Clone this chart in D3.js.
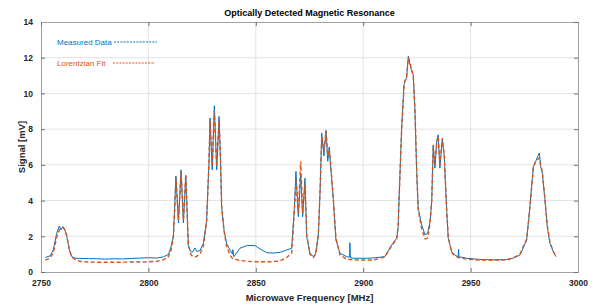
<!DOCTYPE html>
<html>
<head>
<meta charset="utf-8">
<script src="https://cdn.jsdelivr.net/npm/d3@7"></script>
<style>
    body { margin: 0; background: #fff; }
    svg { display: block; font-family: "Liberation Sans", Arial, sans-serif; }
</style>
</head>
<body>
<svg id="chart"></svg>
<script>
// Frequency samples (MHz)
const freq = [
    2752, 2754.2, 2755.7, 2757.3, 2758.5, 2759.3, 2760.1, 2760.9, 2762, 2763.2, 2764.3, 2765.8,
    2768, 2772, 2776, 2780, 2784, 2788, 2792, 2796, 2800, 2804, 2807, 2809.3, 2810.5, 2811.6,
    2812.3, 2812.8, 2814.0, 2815.2, 2816.3, 2817.4, 2818.6, 2819.7, 2820.5, 2821.7, 2822.5, 2824,
    2825.6, 2827.1, 2828.2, 2828.7, 2829.7, 2830.7, 2831.8, 2832.9, 2833.6, 2834.1, 2835.2, 2836.4,
    2838, 2839.2, 2839.3, 2839.8, 2842.6, 2845.8, 2849.6, 2852, 2855.1, 2858.1, 2861.3, 2864,
    2866.7, 2867.9, 2868.7, 2869.8, 2870.9, 2871.8, 2872.9, 2873.7, 2875.2, 2876.8, 2877.9, 2879.1,
    2879.9, 2880.7, 2881.7, 2882.7, 2883.5, 2884.2, 2884.9, 2886.1, 2887.3, 2889.2, 2892.3, 2893.7,
    2893.8, 2894.0, 2895.4, 2901.6, 2905, 2910.1, 2913.2, 2915.6, 2916.3, 2916.6, 2917.9, 2919.0,
    2919.4, 2920.2, 2921.0, 2921.8, 2922.6, 2923.3, 2924.1, 2924.9, 2925.6, 2927.2, 2928.8, 2930.0,
    2931.1, 2931.9, 2932.6, 2933.4, 2934.2, 2934.9, 2935.7, 2936.8, 2937.7, 2938.9, 2939.6, 2941.2,
    2942.7, 2944.2, 2944.4, 2944.6, 2948.2, 2954.4, 2960, 2966.8, 2970, 2973, 2976.1, 2977.6,
    2979.2, 2980.3, 2981.2, 2982.0, 2982.6, 2983.4, 2984.6, 2985.7, 2986.9, 2988.5, 2989.7
];

// Measured signal (mV)
const measured = [
    0.82, 0.90, 1.23, 2.17, 2.58, 2.36, 2.54, 2.45, 1.98, 1.23, 0.86, 0.78,
    0.76, 0.75, 0.74, 0.72, 0.74, 0.73, 0.76, 0.78, 0.80, 0.78, 0.85, 0.98, 1.40, 2.00,
    3.80, 5.38, 2.75, 5.72, 2.75, 5.40, 1.42, 1.14, 1.10, 1.35, 1.15, 1.20,
    1.60, 2.90, 6.10, 8.62, 5.72, 9.31, 5.72, 8.71, 6.10, 3.66, 2.36, 1.60,
    1.23, 1.00, 1.25, 0.86, 1.33, 1.48, 1.48, 1.29, 1.08, 1.06, 1.10, 1.22,
    1.33, 3.48, 5.63, 3.10, 5.40, 3.10, 5.25, 1.98, 1.05, 0.86, 1.05, 1.98,
    4.41, 7.78, 6.50, 7.93, 6.20, 7.00, 5.80, 4.04, 1.79, 1.05, 0.86, 0.84,
    1.64, 0.80, 0.77, 0.77, 0.79, 0.86, 1.51, 1.89, 2.54, 3.76, 8.06, 10.49,
    10.67, 10.86, 12.08, 11.61, 11.23, 11.05, 8.99, 5.63, 3.57, 2.64, 2.08, 2.17,
    2.82, 3.94, 7.12, 5.82, 7.31, 7.68, 5.82, 7.40, 6.56, 3.38, 1.89, 1.14,
    0.95, 0.85, 1.27, 0.85, 0.77, 0.70, 0.68, 0.70, 0.78, 0.95, 1.79, 3.66,
    5.91, 6.19, 6.47, 6.66, 5.91, 5.54, 4.04, 2.54, 1.61, 1.14, 0.86
];

// Lorentzian fit (mV)
const fit = [
    0.66, 0.78, 1.05, 1.95, 2.35, 2.45, 2.50, 2.40, 2.05, 1.25, 0.85, 0.70,
    0.60, 0.56, 0.55, 0.55, 0.55, 0.55, 0.56, 0.56, 0.57, 0.60, 0.68, 0.85, 1.20, 1.90,
    3.60, 5.30, 2.90, 5.60, 2.90, 5.45, 1.60, 1.00, 0.88, 0.85, 0.88, 1.00,
    1.45, 2.80, 6.20, 8.50, 5.90, 9.00, 5.90, 8.50, 6.20, 3.70, 2.30, 1.45,
    0.95, 0.75, 0.74, 0.72, 0.65, 0.60, 0.57, 0.57, 0.57, 0.58, 0.62, 0.78,
    1.05, 3.30, 5.10, 3.30, 6.19, 3.30, 4.90, 2.10, 1.00, 0.80, 1.00, 2.10,
    4.50, 7.60, 6.80, 7.90, 6.50, 6.90, 6.00, 4.10, 1.90, 0.95, 0.72, 0.70,
    0.70, 0.70, 0.68, 0.67, 0.67, 0.85, 1.45, 1.85, 2.60, 3.70, 8.00, 10.40,
    10.70, 10.90, 12.00, 11.70, 11.30, 11.00, 9.10, 5.70, 3.50, 2.45, 1.85, 1.90,
    2.70, 4.00, 7.00, 6.00, 7.20, 7.60, 6.00, 7.50, 6.60, 3.40, 1.95, 1.10,
    0.90, 0.82, 0.80, 0.80, 0.72, 0.67, 0.66, 0.68, 0.80, 1.00, 1.85, 3.60,
    5.80, 6.20, 6.30, 6.40, 6.00, 5.60, 4.10, 2.60, 1.70, 1.15, 0.90
];

const xTicks = [2750, 2800, 2850, 2900, 2950, 3000];
const yTicks = [0, 2, 4, 6, 8, 10, 12, 14];

const seriesNames = ["Measured Data", "Lorentzian Fit"];
const seriesColors = ["#0072BD", "#D95319"];

const width = 593;
const height = 307;
const margin = { top: 22, right: 15, bottom: 35, left: 41 };
const innerW = width - margin.left - margin.right;
const innerH = height - margin.top - margin.bottom;

const svg = d3.select("#chart")
    .attr("width", width)
    .attr("height", height);

const g = svg.append("g")
    .attr("transform", `translate(${margin.left},${margin.top})`);

const x = d3.scaleLinear().domain([2750, 3000]).range([0, innerW]);
const y = d3.scaleLinear().domain([0, 14]).range([innerH, 0]);

// Grid lines
g.append("g")
    .selectAll("line")
    .data(xTicks.slice(1, -1))
    .enter().append("line")
    .attr("x1", d => x(d)).attr("x2", d => x(d))
    .attr("y1", 0).attr("y2", innerH)
    .attr("stroke", "#e3e3e3");

g.append("g")
    .selectAll("line")
    .data(yTicks.slice(1, -1))
    .enter().append("line")
    .attr("x1", 0).attr("x2", innerW)
    .attr("y1", d => y(d)).attr("y2", d => y(d))
    .attr("stroke", "#e3e3e3");

// Axes (MATLAB style: ticks point inward on every side)
function styleAxis(sel) {
    sel.select(".domain").attr("stroke", "#a0a0a0");
    sel.selectAll(".tick line").attr("stroke", "#707070");
    sel.selectAll("text")
        .attr("fill", "#262626")
        .attr("font-size", 8.5)
        .attr("font-weight", "bold");
}

g.append("g")
    .attr("transform", `translate(0,${innerH})`)
    .call(d3.axisBottom(x).tickValues(xTicks).tickFormat(d3.format("d"))
        .tickSize(-4).tickSizeOuter(0).tickPadding(8))
    .call(styleAxis);

g.append("g")
    .call(d3.axisLeft(y).tickValues(yTicks).tickFormat(d3.format("d"))
        .tickSize(-4).tickSizeOuter(0).tickPadding(8))
    .call(styleAxis);

g.append("g")
    .call(d3.axisTop(x).tickValues(xTicks).tickSize(-4).tickSizeOuter(0).tickFormat(""))
    .call(styleAxis);

g.append("g")
    .attr("transform", `translate(${innerW},0)`)
    .call(d3.axisRight(y).tickValues(yTicks).tickSize(-4).tickSizeOuter(0).tickFormat(""))
    .call(styleAxis);

// Lines
const line = d3.line()
    .x((d, i) => x(freq[i]))
    .y(d => y(d));

g.append("path")
    .datum(measured)
    .attr("fill", "none")
    .attr("stroke", seriesColors[0])
    .attr("stroke-width", 1)
    .attr("d", line);

g.append("path")
    .datum(fit)
    .attr("fill", "none")
    .attr("stroke", seriesColors[1])
    .attr("stroke-width", 1.4)
    .attr("stroke-dasharray", "4,2.5")
    .attr("d", line);

// Legend (no box, inside the axes)
const legend = g.append("g")
    .selectAll("g")
    .data(seriesNames)
    .enter().append("g")
    .attr("transform", (d, i) => `translate(16,${20 + i * 21})`);

legend.append("text")
    .attr("dy", "0.35em")
    .attr("font-size", 8)
    .attr("fill", (d, i) => seriesColors[i])
    .text(d => d);

legend.append("line")
    .attr("x1", (d, i) => i === 0 ? 57 : 56)
    .attr("x2", (d, i) => i === 0 ? 100 : 98)
    .attr("stroke", (d, i) => seriesColors[i])
    .attr("stroke-width", 1)
    .attr("stroke-dasharray", "2,1.2");

// Title and axis labels
svg.append("text")
    .attr("x", margin.left + innerW / 2)
    .attr("y", 16)
    .attr("text-anchor", "middle")
    .attr("font-size", 9)
    .attr("font-weight", "bold")
    .attr("fill", "#000")
    .text("Optically Detected Magnetic Resonance");

svg.append("text")
    .attr("x", margin.left + innerW / 2)
    .attr("y", 301)
    .attr("text-anchor", "middle")
    .attr("font-size", 9.5)
    .attr("font-weight", "bold")
    .attr("fill", "#262626")
    .text("Microwave Frequency [MHz]");

svg.append("text")
    .attr("transform", `translate(25,${margin.top + innerH / 2}) rotate(-90)`)
    .attr("text-anchor", "middle")
    .attr("font-size", 9.5)
    .attr("font-weight", "bold")
    .attr("fill", "#262626")
    .text("Signal [mV]");
</script>
</body>
</html>
